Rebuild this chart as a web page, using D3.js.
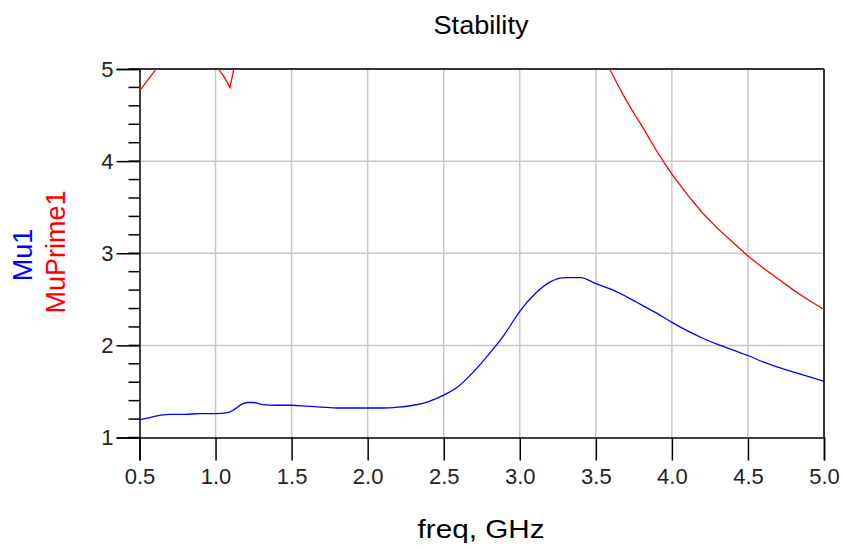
<!DOCTYPE html>
<html>
<head>
<meta charset="utf-8">
<script src="https://d3js.org/d3.v7.min.js"></script>
<style>
  body { margin: 0; background: #fff; }
  text { font-family: Arial, "Liberation Sans", sans-serif; }
</style>
</head>
<body>
<div id="chart"></div>
<script>
// data
var freqMu = [0.5, 0.55, 0.6, 0.7, 0.8, 0.9, 1.0, 1.08, 1.12, 1.17, 1.21, 1.25, 1.3, 1.4, 1.5, 1.6, 1.7, 1.8, 1.9, 2.0,
              2.1, 2.2, 2.3, 2.4, 2.5, 2.6, 2.7, 2.8, 2.9, 3.0, 3.1, 3.2, 3.3, 3.4, 3.5, 3.6, 3.7, 3.8, 3.9, 4.0,
              4.1, 4.2, 4.3, 4.4, 4.5, 4.6, 4.7, 4.8, 4.9, 5.0]
var mu1 = [1.19, 1.21, 1.23, 1.25, 1.25, 1.26, 1.26, 1.27, 1.30, 1.36, 1.38, 1.38, 1.36, 1.35, 1.35, 1.34, 1.33, 1.32, 1.32, 1.32,
           1.32, 1.33, 1.35, 1.39, 1.46, 1.56, 1.72, 1.91, 2.12, 2.37, 2.56, 2.69, 2.735, 2.735, 2.67, 2.61, 2.53, 2.44, 2.35, 2.25,
           2.16, 2.08, 2.01, 1.95, 1.89, 1.82, 1.76, 1.71, 1.66, 1.61]

var freqMuP = [0.5, 0.55, 0.6, 0.65, 0.8, 0.95, 1.0, 1.05, 1.095, 1.12, 1.15, 1.3, 2.0, 3.0, 3.5, 3.55, 3.6, 3.65, 3.7, 3.75,
               3.8, 3.85, 3.9, 3.95, 4.0, 4.1, 4.2, 4.3, 4.4, 4.5, 4.6, 4.7, 4.8, 4.9, 5.0]
var muPrime1 = [4.76, 4.87, 4.98, 5.1, 5.4, 5.15, 5.04, 4.93, 4.80, 5.0, 5.3, 6.0, 8.0, 7.0, 5.3, 5.14, 4.97, 4.81, 4.66, 4.52,
                4.39, 4.25, 4.11, 3.98, 3.86, 3.64, 3.44, 3.27, 3.12, 2.97, 2.84, 2.72, 2.60, 2.49, 2.39]

var xTicks = [0.5, 1.0, 1.5, 2.0, 2.5, 3.0, 3.5, 4.0, 4.5, 5.0]
var yTicks = [1, 2, 3, 4, 5]
var yMinor = d3.range(1, 5.01, 0.2)

var margin = {top: 69, right: 20, bottom: 112, left: 139.5}
var width = 824 - margin.left
var height = 437.5 - margin.top

var svg = d3.select("#chart")
  .append("svg")
    .attr("width", 844)
    .attr("height", 550)

var g = svg.append("g")
    .attr("transform", "translate(" + margin.left + "," + margin.top + ")")

var x = d3.scaleLinear().domain([0.5, 5.0]).range([0, width])
var y = d3.scaleLinear().domain([1, 5]).range([height, 0])

g.append("clipPath")
    .attr("id", "plotclip")
  .append("rect")
    .attr("width", width)
    .attr("height", height)

// grid
g.selectAll(".vgrid")
  .data(xTicks.slice(1, -1))
  .enter()
  .append("line")
    .attr("x1", function(d) { return x(d) })
    .attr("x2", function(d) { return x(d) })
    .attr("y1", 0)
    .attr("y2", height)
    .attr("stroke", "#c8c8c8")
    .attr("stroke-width", 1.5)

g.selectAll(".hgrid")
  .data(yTicks.slice(1, -1))
  .enter()
  .append("line")
    .attr("x1", 0)
    .attr("x2", width)
    .attr("y1", function(d) { return y(d) })
    .attr("y2", function(d) { return y(d) })
    .attr("stroke", "#c8c8c8")
    .attr("stroke-width", 1.5)

// frame top / right
g.append("line").attr("x1", 0).attr("x2", width).attr("y1", 0).attr("y2", 0)
    .attr("stroke", "#333").attr("stroke-width", 2)
g.append("line").attr("x1", width).attr("x2", width).attr("y1", 0).attr("y2", height)
    .attr("stroke", "#333").attr("stroke-width", 2)

// x axis
var xAxis = g.append("g")
    .attr("transform", "translate(0," + height + ")")
    .call(d3.axisBottom(x).tickValues(xTicks).tickSize(23).tickPadding(8)
      .tickFormat(d3.format(".1f")))
xAxis.select(".domain").attr("stroke", "#000").attr("stroke-width", 1.5)
xAxis.selectAll(".tick line").attr("stroke", "#000").attr("stroke-width", 1.5)
xAxis.selectAll("text")
    .attr("font-size", 22)
    .attr("fill", "#222")
    .attr("font-family", "Arial, 'Liberation Sans', sans-serif")

// y axis minor ticks
g.selectAll(".yminor")
  .data(yMinor)
  .enter()
  .append("line")
    .attr("x1", -11)
    .attr("x2", 0)
    .attr("y1", function(d) { return y(d) })
    .attr("y2", function(d) { return y(d) })
    .attr("stroke", "#000")
    .attr("stroke-width", 1.5)

var yAxis = g.append("g")
    .call(d3.axisLeft(y).tickValues(yTicks).tickSize(23).tickPadding(3)
      .tickFormat(d3.format("d")))
yAxis.select(".domain").attr("stroke", "#000").attr("stroke-width", 1.5)
yAxis.selectAll(".tick line").attr("stroke", "#000").attr("stroke-width", 1.5)
yAxis.selectAll("text")
    .attr("font-size", 22)
    .attr("fill", "#222")
    .attr("font-family", "Arial, 'Liberation Sans', sans-serif")

// curves
var line = d3.line()
    .x(function(d) { return x(d[0]) })
    .y(function(d) { return y(d[1]) })

var plot = g.append("g").attr("clip-path", "url(#plotclip)")

plot.append("path")
    .datum(d3.zip(freqMuP, muPrime1))
    .attr("d", line)
    .attr("fill", "none")
    .attr("stroke", "#ff0000")
    .attr("stroke-width", 1.3)

plot.append("path")
    .datum(d3.zip(freqMu, mu1))
    .attr("d", line.curve(d3.curveMonotoneX))
    .attr("fill", "none")
    .attr("stroke", "#0000ff")
    .attr("stroke-width", 1.3)

// labels
svg.append("text")
    .attr("x", 481)
    .attr("y", 34)
    .attr("text-anchor", "middle")
    .attr("font-size", 25)
    .attr("textLength", 95)
    .attr("lengthAdjust", "spacingAndGlyphs")
    .text("Stability")

svg.append("text")
    .attr("x", 481)
    .attr("y", 538)
    .attr("text-anchor", "middle")
    .attr("font-size", 25)
    .attr("textLength", 127)
    .attr("lengthAdjust", "spacingAndGlyphs")
    .text("freq, GHz")

svg.append("text")
    .attr("transform", "translate(32,255) rotate(-90)")
    .attr("text-anchor", "middle")
    .attr("font-size", 27)
    .attr("fill", "#0000ff")
    .text("Mu1")

svg.append("text")
    .attr("transform", "translate(65,252) rotate(-90)")
    .attr("text-anchor", "middle")
    .attr("font-size", 27)
    .attr("fill", "#ff0000")
    .text("MuPrime1")
</script>
</body>
</html>
